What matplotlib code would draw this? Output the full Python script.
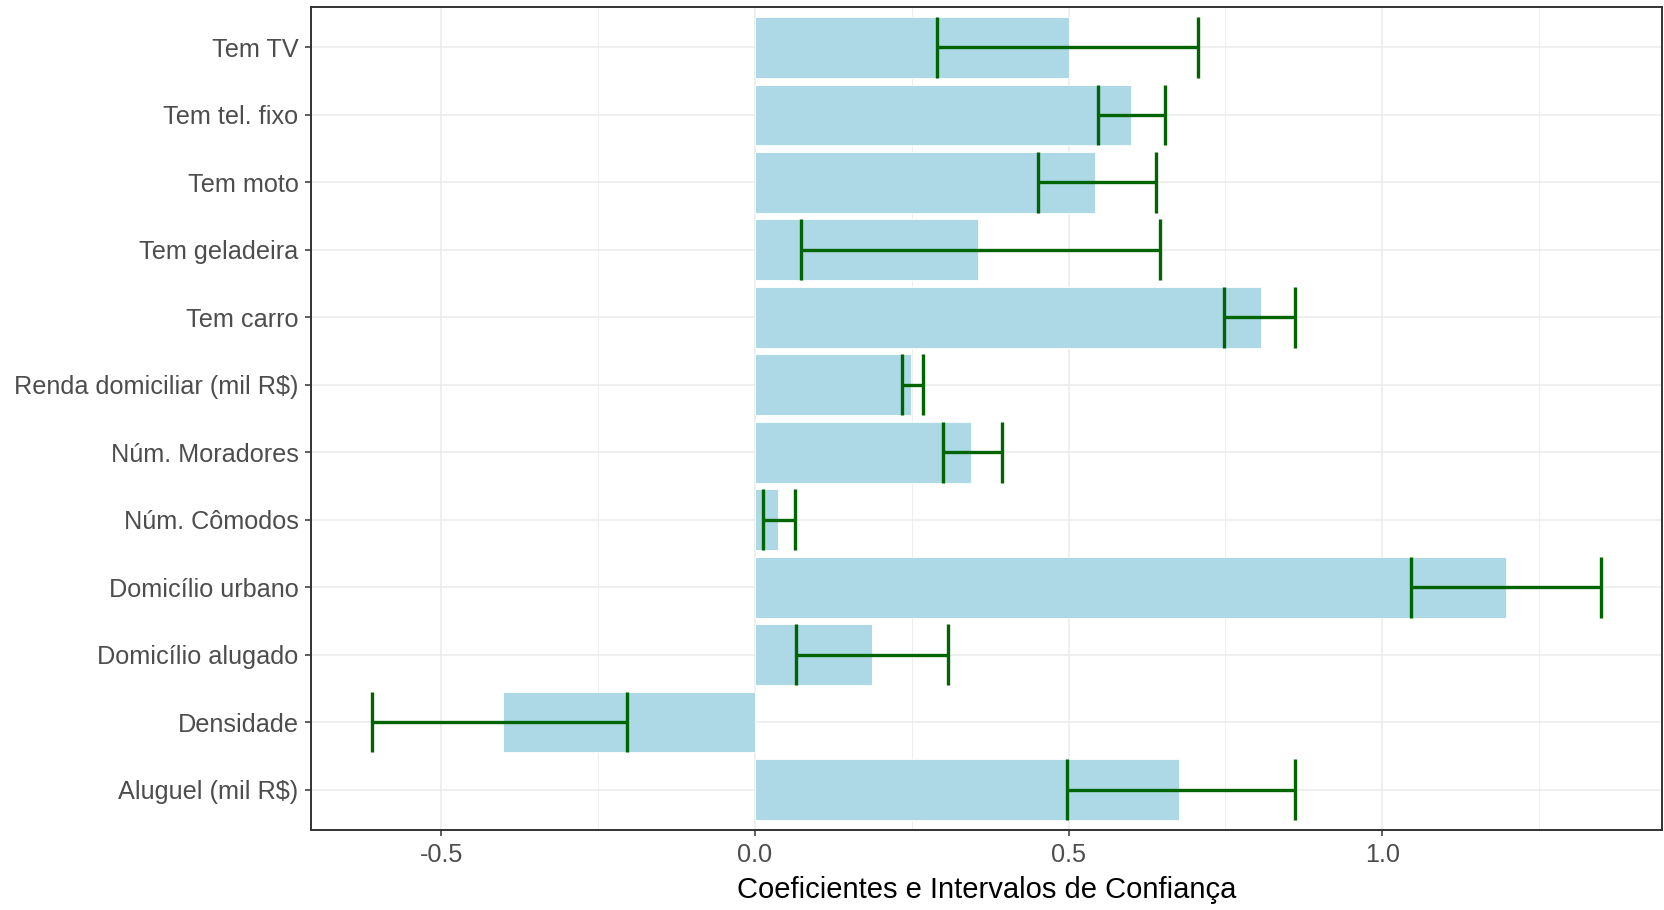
import numpy as np
import matplotlib.pyplot as plt
from matplotlib.ticker import MultipleLocator

# Variáveis (de baixo para cima)
variaveis = ['Aluguel (mil R$)', 'Densidade', 'Domicílio alugado', 'Domicílio urbano',
             'Núm. Cômodos', 'Núm. Moradores', 'Renda domiciliar (mil R$)', 'Tem carro',
             'Tem geladeira', 'Tem moto', 'Tem tel. fixo', 'Tem TV']
coef = [0.676, -0.402, 0.186, 1.198, 0.037, 0.345, 0.248, 0.806, 0.355, 0.542, 0.600, 0.500]
ic_inf = [0.498, -0.610, 0.066, 1.046, 0.012, 0.300, 0.235, 0.748, 0.074, 0.451, 0.546, 0.290]
ic_sup = [0.861, -0.204, 0.307, 1.348, 0.063, 0.394, 0.267, 0.861, 0.645, 0.639, 0.654, 0.706]

plt.rcParams['font.family'] = ['Liberation Sans', 'DejaVu Sans']

fig = plt.figure(figsize=(16.65, 9.10), dpi=100)
ax = fig.add_axes([311 / 1665, 1 - 830 / 910, (1662 - 311) / 1665, (830 - 7) / 910])

y = np.arange(1, len(variaveis) + 1)
ax.barh(y, coef, height=0.9, color='#ADD8E6', edgecolor='white', linewidth=0.6, zorder=2)

# intervalos de confiança
ax.hlines(y, ic_inf, ic_sup, color='#006400', linewidth=2.4, zorder=3)
ax.vlines(ic_inf, y - 0.45, y + 0.45, color='#006400', linewidth=2.4, zorder=3)
ax.vlines(ic_sup, y - 0.45, y + 0.45, color='#006400', linewidth=2.4, zorder=3)

ax.set_xlim(-0.708, 1.446)
ax.set_ylim(0.4, len(variaveis) + 0.6)
ax.set_yticks(y)
ax.set_yticklabels(variaveis)
ax.xaxis.set_minor_locator(MultipleLocator(0.25))
ax.set_xticks([-0.5, 0.0, 0.5, 1.0])
ax.set_xticklabels(['-0.5', '0.0', '0.5', '1.0'])

ax.grid(True, which='major', color='#EBEBEB', linewidth=1.1, zorder=0)
ax.grid(True, which='minor', axis='x', color='#EBEBEB', linewidth=0.6, zorder=0)
ax.set_axisbelow(True)

for s in ax.spines.values():
    s.set_color('#333333')
    s.set_linewidth(1.4)

ax.tick_params(axis='both', which='major', length=4, width=1.1, color='#333333',
               labelsize=18.2, labelcolor='#4D4D4D', pad=5)
ax.tick_params(axis='x', which='minor', length=0)

ax.set_xlabel('Coeficientes e Intervalos de Confiança', fontsize=21, color='black', labelpad=7)

fig.savefig('out.png', dpi=100, facecolor='white')
